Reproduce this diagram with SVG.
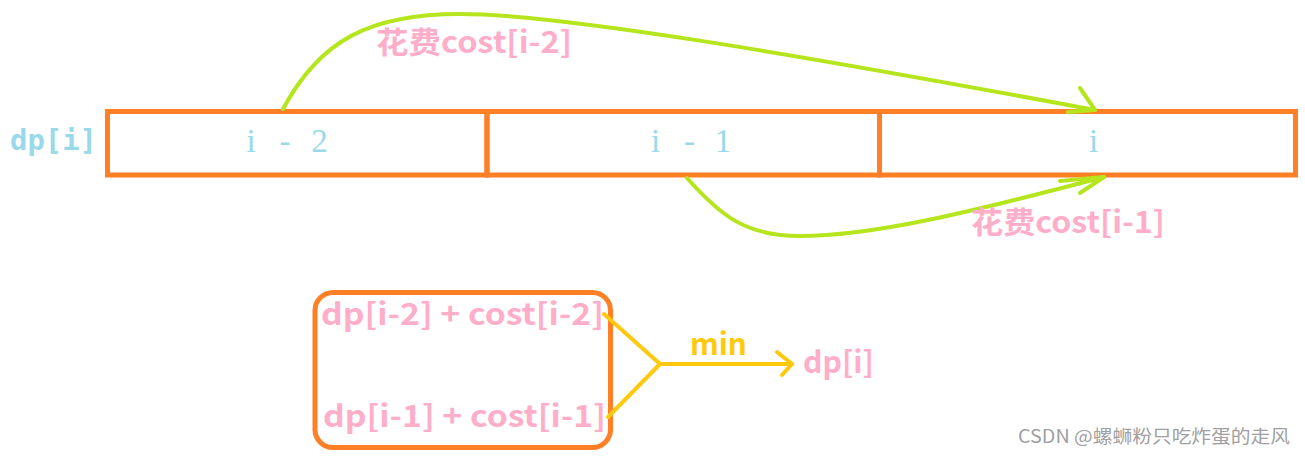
<svg xmlns="http://www.w3.org/2000/svg" width="1305" height="457" viewBox="0 0 1305 457">
<style>
.cell{fill:none;stroke:#ff7f27;stroke-width:5}
.pink{fill:#ffaec9;font-family:"Microsoft YaHei","Noto Sans CJK SC",sans-serif;font-weight:bold}
.blue{fill:#99d9ea}
.serif{font-family:"Liberation Serif","DejaVu Serif",serif;font-size:33px}
.mono{font-family:"DejaVu Sans Mono","Liberation Mono",monospace;font-weight:bold;font-size:29px}
.green{fill:none;stroke:#b5e61d;stroke-width:4;stroke-linecap:round;stroke-linejoin:round}
.gold{fill:none;stroke:#ffc90e;stroke-width:4;stroke-linecap:round;stroke-linejoin:round}
</style>
<rect width="1305" height="457" fill="#ffffff"/>
<g id="label-dp">
<text class="blue mono" x="10" y="150" textLength="87" lengthAdjust="spacingAndGlyphs">dp[i]</text>
</g>
<g id="cell-i-2">
<rect class="cell" x="107.5" y="111.5" width="379.5" height="63.5"/>
<text class="blue serif" x="251 268 285 302 319.5" y="152" text-anchor="middle">i - 2</text>
</g>
<g id="cell-i-1">
<rect class="cell" x="487" y="111.5" width="392.5" height="63.5"/>
<text class="blue serif" x="655.5 672.5 689.5 706.5 723" y="152" text-anchor="middle">i - 1</text>
</g>
<g id="cell-i">
<rect class="cell" x="879.5" y="111.5" width="416" height="63.5"/>
<text class="blue serif" x="1093.5" y="152" text-anchor="middle">i</text>
</g>
<g id="box-options">
<rect class="cell" x="315" y="292.5" width="295.5" height="155" rx="18" ry="18"/>
<text class="pink" x="321" y="325" font-size="30" textLength="283" lengthAdjust="spacingAndGlyphs">dp[i-2] + cost[i-2]</text>
<text class="pink" x="323" y="427" font-size="30" textLength="283" lengthAdjust="spacingAndGlyphs">dp[i-1] + cost[i-1]</text>
</g>
<g id="result">
<text class="pink" x="803" y="373" font-size="30" textLength="71" lengthAdjust="spacingAndGlyphs">dp[i]</text>
</g>
<g id="connectors">
<path class="green" d="M283,109 C320,40 370,14 460,14 C560,14 800,55 1095,110"/>
<path class="green" d="M1080,88 L1095,110 L1068,112"/>
<path class="green" d="M687,178 C720,215 745,236 800,236 C870,236 960,215 1104,177"/>
<path class="green" d="M1060,181 L1104,177 L1080,193"/>
<path class="gold" d="M604,314 L660,364 L608,417"/>
<path class="gold" d="M660,364 L792,364"/>
<path class="gold" d="M777,352 L792,364 L782,375"/>
<text class="pink" x="376" y="53" font-size="30" textLength="196" lengthAdjust="spacingAndGlyphs">花费cost[i-2]</text>
<text class="pink" x="971" y="233" font-size="30" textLength="194" lengthAdjust="spacingAndGlyphs">花费cost[i-1]</text>
<text x="690" y="355" font-size="30" font-weight="bold" font-family="Microsoft YaHei,Noto Sans CJK SC,sans-serif" fill="#ffc90e" textLength="57" lengthAdjust="spacingAndGlyphs">min</text>
</g>
<g id="watermark">
<text x="1018" y="443" font-size="18" fill="#a0a0a0" font-family="Noto Sans CJK SC,sans-serif" textLength="272" lengthAdjust="spacingAndGlyphs">CSDN @螺蛳粉只吃炸蛋的走风</text>
</g>
</svg>
